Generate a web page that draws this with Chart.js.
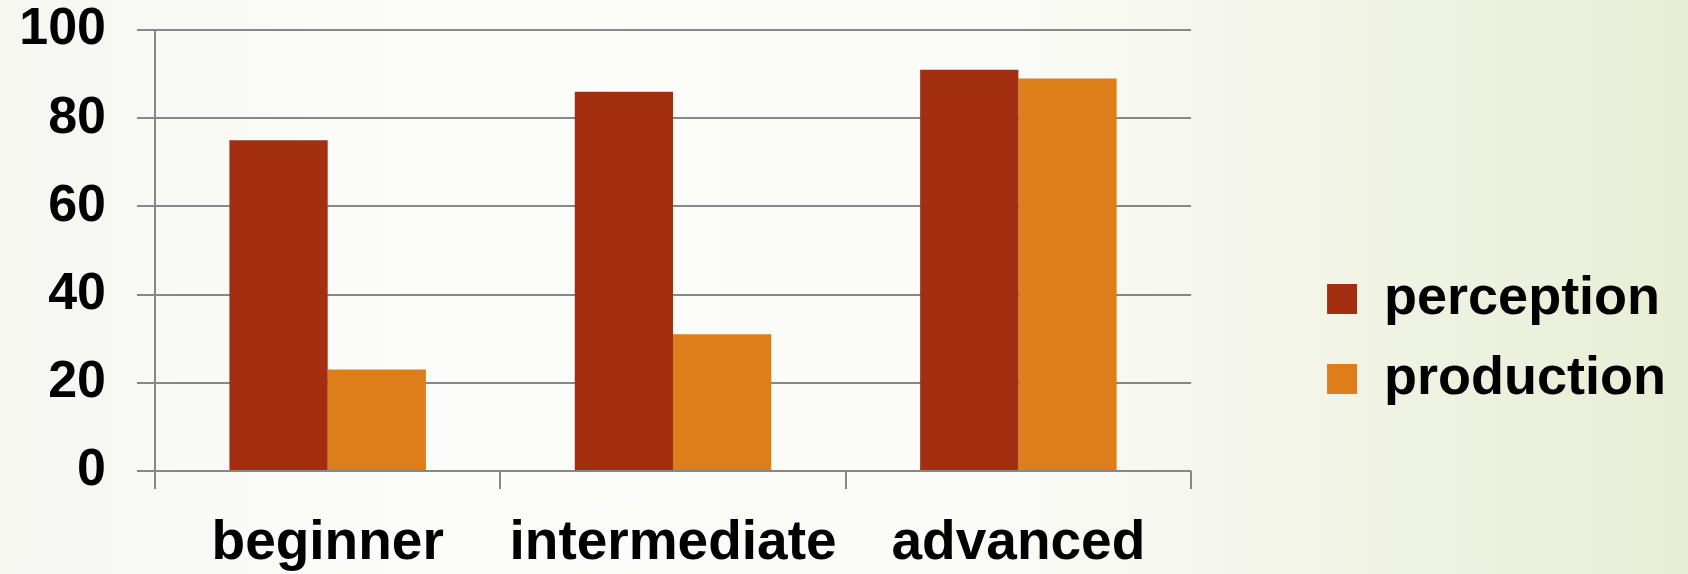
<!DOCTYPE html>
<html>
<head>
<meta charset="utf-8">
<title>perception / production</title>
<script src="https://cdn.jsdelivr.net/npm/chart.js@4/dist/chart.umd.min.js"></script>
<style>
    html, body { margin: 0; padding: 0; }
    body {
        width: 1688px;
        height: 574px;
        background: linear-gradient(to right, #f6f7f1 0%, #fcfcfa 25%, #fbfbf7 60%, #eef2e1 85%, #e8eed5 100%);
    }
    #wrap { position: relative; width: 1688px; height: 574px; }
</style>
</head>
<body>
<div id="wrap"><canvas id="levels-chart"></canvas></div>
<script>
const levels = ['beginner', 'intermediate', 'advanced'];
const perception = [75, 86, 91];
const production = [23, 31, 89];
const yTicks = [0, 20, 40, 60, 80, 100];

const FONT = "'Liberation Sans', Arial, sans-serif";
const GRID = '#878787';

const ctx = document.getElementById('levels-chart').getContext('2d');

new Chart(ctx, {
    type: 'bar',
    data: {
        labels: levels,
        datasets: [
            {
                label: 'perception',
                data: perception,
                backgroundColor: '#a32e10',
                borderWidth: 0,
                categoryPercentage: 0.569,
                barPercentage: 1
            },
            {
                label: 'production',
                data: production,
                backgroundColor: '#dd7e1a',
                borderWidth: 0,
                categoryPercentage: 0.569,
                barPercentage: 1
            }
        ]
    },
    options: {
        responsive: true,
        maintainAspectRatio: false,
        animation: false,
        layout: { padding: { top: 0, right: 12, bottom: 0, left: 0 } },
        plugins: {
            tooltip: { enabled: false },
            legend: {
                position: 'right',
                align: 'center',
                maxWidth: 420,
                // blank title only pushes the two entries a little lower
                title: { display: true, text: '', font: { size: 30 }, padding: 34 },
                labels: {
                    boxWidth: 30,
                    boxHeight: 30,
                    padding: 26,
                    color: '#000',
                    font: { family: FONT, size: 54, weight: 'bold' }
                }
            }
        },
        scales: {
            x: {
                grid: {
                    offset: true,
                    drawOnChartArea: false,
                    drawTicks: true,
                    tickLength: 18,
                    color: GRID,
                    lineWidth: 2
                },
                border: { display: false },
                ticks: {
                    color: '#000',
                    padding: 22,
                    maxRotation: 0,
                    autoSkip: false,
                    font: { family: FONT, size: 55, weight: 'bold' }
                },
                afterFit: (scale) => { scale.height = 103; }
            },
            y: {
                min: 0,
                max: 100,
                afterBuildTicks: (scale) => { scale.ticks = yTicks.map(v => ({ value: v })); },
                grid: { color: GRID, lineWidth: 2, tickLength: 18 },
                border: { display: true, color: GRID, width: 2 },
                ticks: {
                    color: '#000',
                    padding: 31,
                    font: { family: FONT, size: 52, weight: 'bold' }
                },
                afterFit: (scale) => {
                    scale.width = 155;
                    // keep the tick padding from pushing the plot down
                    scale.paddingTop = 30;
                    scale.paddingBottom = 0;
                }
            },
            // empty strip between the plot and the legend
            gap: {
                type: 'linear',
                position: 'right',
                grid: { display: false },
                border: { display: false },
                ticks: { display: false },
                afterFit: (scale) => { scale.width = 110; }
            }
        }
    }
});
</script>
</body>
</html>
